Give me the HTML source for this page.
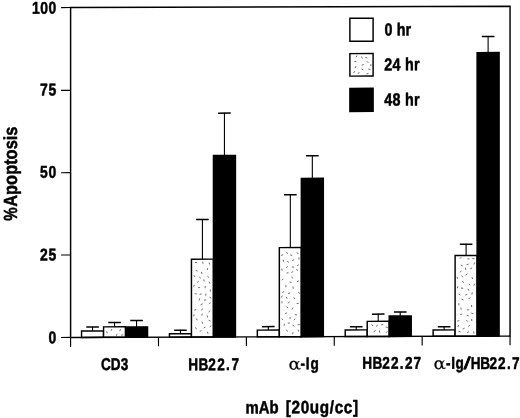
<!DOCTYPE html>
<html><head><meta charset="utf-8"><title>Apoptosis chart</title>
<style>html,body{margin:0;padding:0;background:#fff}svg{display:block}text{font-family:"Liberation Sans",sans-serif;font-weight:bold;fill:#000;stroke:#000;stroke-width:0.5px;stroke-linejoin:round}text.gk{font-family:"DejaVu Serif","Liberation Serif",serif;font-weight:normal;stroke-width:0.15px}</style></head><body>
<svg width="520" height="418" viewBox="0 0 520 418">
<rect width="520" height="418" fill="#fff"/>
<g transform="matrix(1 -0.00314 0 1 0 0.817)">
<rect x="81.55" y="330.50" width="22.0" height="6.35" fill="#fff" stroke="#000" stroke-width="1.45"/>
<path d="M92.55 330.50V326.10" stroke="#000" stroke-width="1.1" fill="none"/>
<path d="M86.25 326.50H98.84" stroke="#000" stroke-width="1.5" fill="none"/>
<rect x="103.55" y="326.40" width="22.0" height="10.45" fill="#fff" stroke="#000" stroke-width="1.45"/>
<path d="M111.9 328.6L111.0 330.4M106.6 330.9L107.4 332.8M117.0 333.3L116.5 335.4M120.4 328.7L119.8 330.7M123.3 334.4L121.2 334.7" stroke="#4a4a4a" stroke-width="0.8" fill="none"/>
<path d="M114.55 326.40V321.70" stroke="#000" stroke-width="1.1" fill="none"/>
<path d="M108.25 322.10H120.84" stroke="#000" stroke-width="1.5" fill="none"/>
<rect x="125.55" y="326.50" width="22.0" height="10.35" fill="#000" stroke="#000" stroke-width="1.45"/>
<path d="M136.55 326.50V319.70" stroke="#000" stroke-width="1.1" fill="none"/>
<path d="M130.25 320.10H142.85" stroke="#000" stroke-width="1.5" fill="none"/>
<rect x="169.44" y="333.50" width="22.0" height="3.35" fill="#fff" stroke="#000" stroke-width="1.45"/>
<path d="M180.44 333.50V329.50" stroke="#000" stroke-width="1.1" fill="none"/>
<path d="M174.13 329.90H186.74" stroke="#000" stroke-width="1.5" fill="none"/>
<rect x="191.44" y="259.00" width="22.0" height="77.85" fill="#fff" stroke="#000" stroke-width="1.45"/>
<path d="M199.3 276.7L200.8 278.1M205.5 326.8L203.7 327.8M202.9 308.5L201.2 309.8M196.1 309.4L194.1 310.0M207.3 315.3L207.5 317.3M196.2 318.3L197.3 320.1M207.4 331.6L208.1 333.6M201.4 329.9L200.0 331.5M195.7 270.1L197.6 271.0M208.6 320.0L210.5 320.9M205.4 285.9L205.0 288.0M197.0 262.2L194.9 262.3M206.1 299.7L204.0 300.1M207.4 276.0L208.9 277.4M203.7 279.2L204.2 281.3M195.5 327.1L196.4 329.0M202.7 303.7L200.7 304.4M202.7 261.5L203.0 263.6M202.2 313.4L201.8 315.5M199.6 298.2L199.2 300.3M207.6 268.0L207.2 270.0M198.8 280.9L197.2 282.2M205.9 293.4L205.7 295.5M194.8 293.4L196.8 293.9M210.4 289.4L210.4 291.5M194.4 284.6L193.6 286.5M210.4 302.3L209.2 304.0M193.9 275.1L195.1 276.9M194.1 314.0L193.7 316.1M202.0 321.5L202.7 323.5M201.5 271.7L201.9 273.8M198.0 287.4L200.1 287.4M209.9 310.5L208.7 312.2M209.1 281.5L209.9 283.5M211.3 325.6L209.6 326.7M201.7 293.8L199.6 294.1M209.5 297.0L211.3 298.2M209.1 262.4L209.7 264.4" stroke="#4a4a4a" stroke-width="0.8" fill="none"/>
<path d="M202.44 259.00V219.00" stroke="#000" stroke-width="1.1" fill="none"/>
<path d="M196.13 219.40H208.74" stroke="#000" stroke-width="1.5" fill="none"/>
<rect x="213.44" y="155.40" width="22.0" height="181.45" fill="#000" stroke="#000" stroke-width="1.45"/>
<path d="M224.44 155.40V112.60" stroke="#000" stroke-width="1.1" fill="none"/>
<path d="M218.13 113.00H230.74" stroke="#000" stroke-width="1.5" fill="none"/>
<rect x="257.33" y="330.10" width="22.0" height="6.75" fill="#fff" stroke="#000" stroke-width="1.45"/>
<path d="M268.33 330.10V326.25" stroke="#000" stroke-width="1.1" fill="none"/>
<path d="M262.03 326.65H274.63" stroke="#000" stroke-width="1.5" fill="none"/>
<rect x="279.33" y="247.70" width="22.0" height="89.15" fill="#fff" stroke="#000" stroke-width="1.45"/>
<path d="M294.8 314.7L296.9 315.0M283.2 254.9L281.1 255.5M287.0 312.9L285.1 313.6M288.5 272.8L286.5 273.1M293.0 271.3L291.7 272.9M298.7 303.4L296.6 303.8M281.9 268.7L282.0 270.8M298.0 329.8L298.7 331.7M285.9 285.3L286.0 287.4M298.7 264.8L297.0 266.0M295.3 318.9L293.7 320.3M291.6 276.8L292.8 278.6M299.8 324.7L297.7 324.8M283.9 291.3L282.6 293.0M289.4 301.6L288.3 303.4M294.1 259.7L292.3 260.7M286.3 297.0L287.1 298.9M284.5 323.8L284.0 325.9M298.2 292.2L299.8 293.6M298.9 257.5L299.0 259.6M297.0 252.5L298.3 254.2M298.9 281.0L296.9 281.9M287.2 261.3L288.9 262.5M291.9 267.1L294.0 267.2M286.4 306.8L288.2 308.0M287.9 266.5L286.2 267.8M290.2 254.9L292.2 255.6M286.4 329.8L287.5 331.6M289.9 323.1L287.8 323.2M282.2 295.7L281.3 297.6M291.2 318.0L289.1 318.2M289.7 282.0L291.6 282.8M292.9 286.7L293.3 288.8M281.9 301.3L282.0 303.4M283.2 259.8L283.6 261.8M283.4 278.9L281.9 280.4M286.3 252.5L288.0 253.6M292.6 325.3L294.4 326.3M281.6 318.6L283.1 320.1M293.1 332.3L292.5 334.3M290.1 293.0L288.1 293.7M293.1 307.7L292.1 309.5M293.7 297.4L294.9 299.1M296.2 269.5L298.0 270.7" stroke="#4a4a4a" stroke-width="0.8" fill="none"/>
<path d="M290.33 247.70V194.50" stroke="#000" stroke-width="1.1" fill="none"/>
<path d="M284.03 194.90H296.63" stroke="#000" stroke-width="1.5" fill="none"/>
<rect x="301.33" y="178.50" width="22.0" height="158.35" fill="#000" stroke="#000" stroke-width="1.45"/>
<path d="M312.33 178.50V155.50" stroke="#000" stroke-width="1.1" fill="none"/>
<path d="M306.03 155.90H318.63" stroke="#000" stroke-width="1.5" fill="none"/>
<rect x="345.22" y="330.20" width="22.0" height="6.65" fill="#fff" stroke="#000" stroke-width="1.45"/>
<path d="M356.22 330.20V326.60" stroke="#000" stroke-width="1.1" fill="none"/>
<path d="M349.92 327.00H362.52" stroke="#000" stroke-width="1.5" fill="none"/>
<rect x="367.22" y="321.70" width="22.0" height="15.15" fill="#fff" stroke="#000" stroke-width="1.45"/>
<path d="M375.6 331.0L373.8 332.0M371.4 324.8L372.9 326.3M383.3 324.9L381.2 325.1M387.4 331.7L386.0 333.2M377.5 325.1L376.6 327.0M379.3 330.9L379.8 333.0M385.7 327.5L387.8 327.9" stroke="#4a4a4a" stroke-width="0.8" fill="none"/>
<path d="M378.22 321.70V314.10" stroke="#000" stroke-width="1.1" fill="none"/>
<path d="M371.92 314.50H384.52" stroke="#000" stroke-width="1.5" fill="none"/>
<rect x="389.22" y="316.50" width="22.0" height="20.35" fill="#000" stroke="#000" stroke-width="1.45"/>
<path d="M400.22 316.50V312.10" stroke="#000" stroke-width="1.1" fill="none"/>
<path d="M393.92 312.50H406.52" stroke="#000" stroke-width="1.5" fill="none"/>
<rect x="433.11" y="330.50" width="22.0" height="6.35" fill="#fff" stroke="#000" stroke-width="1.45"/>
<path d="M444.11 330.50V326.90" stroke="#000" stroke-width="1.1" fill="none"/>
<path d="M437.81 327.30H450.41" stroke="#000" stroke-width="1.5" fill="none"/>
<rect x="455.11" y="256.20" width="22.0" height="80.65" fill="#fff" stroke="#000" stroke-width="1.45"/>
<path d="M461.1 288.8L463.2 288.9M468.9 284.5L470.3 286.0M462.3 314.7L460.2 315.1M467.4 274.5L465.7 275.7M471.5 305.7L471.7 307.8M474.7 284.4L473.8 286.3M471.6 319.6L471.8 321.7M461.5 299.8L463.5 300.6M471.9 277.8L472.7 279.8M461.3 257.8L459.9 259.4M461.6 276.2L462.9 277.9M464.6 328.8L462.7 329.7M459.3 321.2L457.3 321.8M472.0 268.6L470.2 269.6M467.4 259.5L469.5 259.6M460.8 265.7L462.7 266.6M469.9 325.9L468.2 327.2M470.2 298.1L468.8 299.6M465.5 268.4L465.6 270.5M472.3 293.1L471.9 295.1M474.7 263.2L473.8 265.1M469.1 310.2L467.0 310.7M467.3 295.0L465.3 295.7M466.4 320.6L467.7 322.3M462.5 281.7L463.7 283.4M460.9 308.2L461.2 310.3M457.9 286.9L457.3 288.9M473.7 332.1L473.9 334.2M458.4 331.8L460.5 332.4M471.3 313.8L473.4 314.3M468.0 289.3L468.8 291.3M468.9 332.4L467.1 333.5M457.1 277.4L457.6 279.5M461.3 271.3L460.1 273.0M466.7 315.8L468.7 316.5M458.6 294.6L460.4 295.6M458.8 325.7L457.8 327.6M458.8 303.8L458.9 305.9M468.6 264.8L466.5 265.4M472.3 259.1L474.4 259.4" stroke="#4a4a4a" stroke-width="0.8" fill="none"/>
<path d="M466.11 256.20V244.40" stroke="#000" stroke-width="1.1" fill="none"/>
<path d="M459.81 244.80H472.41" stroke="#000" stroke-width="1.5" fill="none"/>
<rect x="477.11" y="53.30" width="22.0" height="283.55" fill="#000" stroke="#000" stroke-width="1.45"/>
<path d="M488.11 53.30V36.90" stroke="#000" stroke-width="1.1" fill="none"/>
<path d="M481.81 37.30H494.41" stroke="#000" stroke-width="1.5" fill="none"/>
<path d="M70.6 336.85V6.95H510.05V336.85H70.6" stroke="#000" stroke-width="1.45" fill="none"/>
<path d="M61.099999999999994 336.85H70.6M70.6 336.85V346.45000000000005M510.05 336.85V346.05" stroke="#000" stroke-width="1.15" fill="none"/>
<path d="M158.49 336.85V346.05" stroke="#000" stroke-width="1.15" fill="none"/>
<path d="M246.38 336.85V346.05" stroke="#000" stroke-width="1.15" fill="none"/>
<path d="M334.27 336.85V346.05" stroke="#000" stroke-width="1.15" fill="none"/>
<path d="M422.16 336.85V346.05" stroke="#000" stroke-width="1.15" fill="none"/>
<path d="M61.099999999999994 254.40H70.6" stroke="#000" stroke-width="1.15" fill="none"/>
<path d="M61.099999999999994 172.10H70.6" stroke="#000" stroke-width="1.15" fill="none"/>
<path d="M61.099999999999994 89.80H70.6" stroke="#000" stroke-width="1.15" fill="none"/>
<path d="M61.099999999999994 6.95H70.6" stroke="#000" stroke-width="1.15" fill="none"/>
<text transform="translate(32.0 12.95) scale(0.82 1)" font-size="17.0" textLength="29.51" lengthAdjust="spacing">100</text>
<text transform="translate(40.1 94.80) scale(0.82 1)" font-size="17.0" textLength="19.63" lengthAdjust="spacing">75</text>
<text transform="translate(40.1 177.15) scale(0.82 1)" font-size="17.0" textLength="19.63" lengthAdjust="spacing">50</text>
<text transform="translate(40.1 259.80) scale(0.82 1)" font-size="17.0" textLength="19.63" lengthAdjust="spacing">25</text>
<text transform="translate(48.5 342.55) scale(0.82 1)" font-size="17.0" textLength="9.63" lengthAdjust="spacing">0</text>
<rect x="349.9" y="18.6" width="23.2" height="23" fill="#fff" stroke="#000" stroke-width="1.45"/>
<rect x="349.9" y="53.9" width="23.2" height="22.5" fill="#fff" stroke="#000" stroke-width="1.45"/>
<path d="M363.7 64.8L361.7 65.4M370.9 64.4L370.8 66.5M359.3 72.4L358.1 74.1M361.6 56.9L362.4 58.9M356.4 61.8L354.3 61.9M354.8 71.4L353.6 73.2M368.5 73.7L366.5 74.4M355.9 66.5L355.2 68.5M365.4 57.7L367.4 58.4M366.9 61.7L368.4 63.2M357.1 55.8L356.0 57.6M368.3 69.4L370.3 69.9M361.5 69.3L363.3 70.4" stroke="#4a4a4a" stroke-width="0.8" fill="none"/>
<rect x="349.9" y="88.7" width="23.2" height="23" fill="#000" stroke="#000" stroke-width="1.45"/>
<text transform="translate(384.5 36.0) scale(0.82 1)" font-size="17.5" textLength="32.44" lengthAdjust="spacing">0 hr</text>
<text transform="translate(384.3 70.8) scale(0.82 1)" font-size="17.5" textLength="43.05" lengthAdjust="spacing">24 hr</text>
<text transform="translate(384.3 105.9) scale(0.82 1)" font-size="17.5" textLength="43.05" lengthAdjust="spacing">48 hr</text>
<text transform="scale(0.8 1)" x="126.12 138.30 150.80" y="369.6" font-size="17.0">CD3</text>
<text transform="scale(0.8 1)" x="235.43 248.05 260.22 271.47 282.53 289.46" y="370.0" font-size="17.0">HB22.7</text>
<text class="gk" transform="translate(288.5 369.7) scale(1.13 1)" font-size="16.2">α</text>
<text transform="scale(0.8 1)" x="375.52 382.30 387.99" y="369.5" font-size="17.0">-Ig</text>
<text transform="scale(0.8 1)" x="452.68 465.68 477.85 488.85 499.66 506.22 516.96" y="369.2" font-size="17.0">HB22.27</text>
<text class="gk" transform="translate(433.6 369.5) scale(1.13 1)" font-size="16.2">α</text>
<text transform="scale(0.8 1)" x="557.52 564.05 569.49" y="369.4" font-size="17.0">-Ig</text>
<text transform="translate(463.7 369.6) scale(1.45 1)" font-size="17.0" style="font-weight:normal;stroke-width:0.7px">/</text>
<text transform="scale(0.8 1)" x="588.30 600.18 611.85 622.47 633.91 639.96" y="369.7" font-size="17.0">HB22.7</text>
<text transform="translate(245.5 413.4) scale(0.84 1)" font-size="17.8" textLength="39.52" lengthAdjust="spacing">mAb</text>
<text transform="translate(285.8 413.4) scale(0.86 1)" font-size="17.8" textLength="84.07" lengthAdjust="spacing">[20ug/cc]</text>
<text transform="translate(16.9 219.9) rotate(-90) scale(0.79 1)" font-size="19">%</text>
<text transform="translate(16.9 206) rotate(-90) scale(0.865 1)" font-size="19" textLength="92.72" lengthAdjust="spacing">Apoptosis</text>
</g></svg></body></html>
